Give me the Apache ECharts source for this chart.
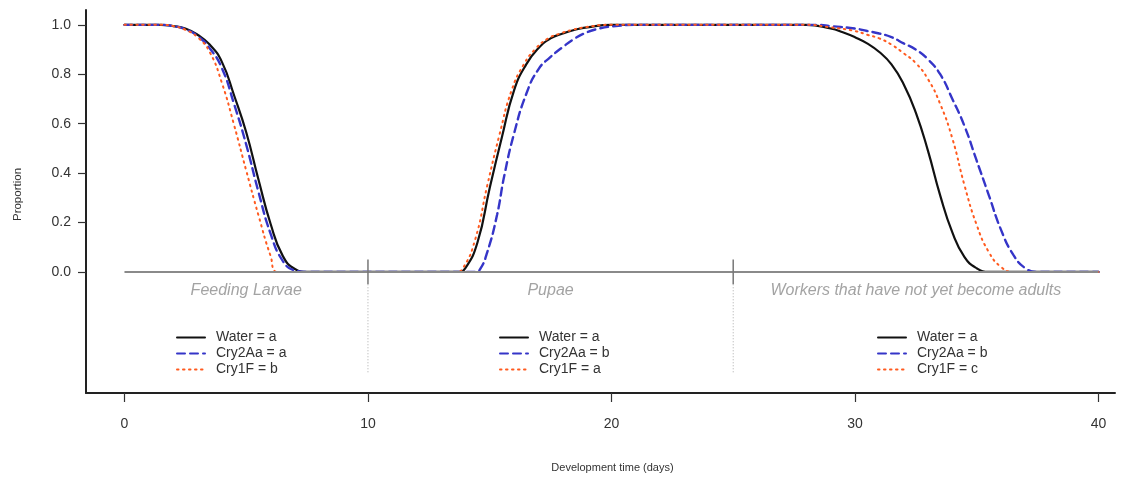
<!DOCTYPE html>
<html><head><meta charset="utf-8">
<script src="https://cdn.jsdelivr.net/npm/echarts@6.0.0/dist/echarts.min.js"></script>
<style>html,body{margin:0;padding:0;background:#fff}#c{width:1135px;height:479px}</style>
</head><body><div id="c"></div>
<script>
// ---- data ----
const seriesNames = ['Water', 'Cry2Aa', 'Cry1F'];
const water = [[0,1],[1.5,1],[2,0.995],[2.5,0.985],[3,0.96],[3.5,0.92],[4,0.85],[4.5,0.715],[5,0.565],[5.5,0.375],[6,0.195],[6.5,0.065],[7,0.012],[7.5,0],
  [13.7,0],[14,0.015],[14.5,0.12],[15,0.34],[15.5,0.545],[16,0.735],[16.5,0.84],[17,0.905],[17.5,0.945],[18,0.965],[18.5,0.98],[19,0.99],[20,1],
  [28,1],[29,0.985],[29.5,0.97],[30,0.95],[30.5,0.925],[31,0.89],[31.5,0.84],[32,0.76],[32.5,0.645],[33,0.49],[33.5,0.31],[34,0.16],[34.5,0.06],[35,0.015],[35.5,0],[40,0]];
const cry2Aa = [[0,1],[1.5,1],[2,0.995],[2.5,0.982],[3,0.955],[3.5,0.905],[4,0.825],[4.5,0.68],[5,0.515],[5.5,0.325],[6,0.155],[6.5,0.045],[7,0.006],[7.5,0],
  [14.4,0],[14.6,0.01],[14.9,0.08],[15.3,0.23],[15.6,0.39],[16,0.56],[16.5,0.72],[17,0.82],[17.5,0.87],[18,0.91],[18.5,0.945],[19,0.97],[19.5,0.985],[20,0.993],[21,1],
  [28.5,1],[29,0.995],[30,0.985],[30.5,0.975],[31,0.965],[31.5,0.95],[32,0.925],[32.5,0.9],[33,0.86],[33.5,0.8],[34,0.7],[34.5,0.59],[35,0.45],[35.5,0.31],[36,0.17],[36.5,0.07],[37,0.015],[37.5,0],[40,0]];
const cry1F = [[0,1],[1.5,1],[2,0.995],[2.5,0.98],[3,0.95],[3.5,0.89],[4,0.765],[4.5,0.595],[5,0.41],[5.5,0.23],[6,0.065],[6.3,0],
  [13.6,0],[13.9,0.015],[14.4,0.13],[14.9,0.35],[15.4,0.555],[15.9,0.735],[16.4,0.84],[16.9,0.905],[17.4,0.945],[17.9,0.965],[18.4,0.98],[18.9,0.99],[19.9,1],
  [28,1],[29,0.99],[30,0.975],[30.5,0.96],[31,0.945],[31.5,0.92],[32,0.885],[32.5,0.845],[33,0.78],[33.5,0.68],[34,0.54],[34.5,0.35],[35,0.19],[35.5,0.08],[36,0.02],[36.5,0],[40,0]];
const phaseBounds = [0, 10, 25, 40];
const phaseNames = ['Feeding Larvae', 'Pupae', 'Workers that have not yet become adults'];
const legendLetters = { Water: ['a','a','a'], Cry2Aa: ['a','b','b'], Cry1F: ['b','a','c'] };
const xTicks = [0, 10, 20, 30, 40];
const yTicks = [0, 0.2, 0.4, 0.6, 0.8, 1.0];

// ---- chart ----
const FONT = "'Liberation Sans', Arial, sans-serif";
const chart = echarts.init(document.getElementById('c'), null, { renderer: 'canvas' });

const curveStyles = {
  Water: { color: '#111111', width: 2.2, type: 'solid' },
  Cry2Aa: { color: '#3535c8', width: 2.4, type: [8, 5] },
  Cry1F: { color: '#ff5a1f', width: 2, type: [1.5, 4.5] }
};
const curveData = { Water: water, Cry2Aa: cry2Aa, Cry1F: cry1F };

const series = [];
seriesNames.forEach((n, i) => {
  series.push({
    name: n, type: 'line', data: curveData[n], symbol: 'none', showSymbol: false, smooth: 0.5,
    color: curveStyles[n].color,
    lineStyle: { color: curveStyles[n].color, width: curveStyles[n].width, type: curveStyles[n].type, cap: 'round' },
    z: 2 + i, silent: true
  });
});
// zero baseline across the data range
series.push({
  type: 'line', data: [[phaseBounds[0], 0], [phaseBounds[phaseBounds.length - 1], 0]], symbol: 'none',
  lineStyle: { color: '#8a8a8a', width: 2 }, z: 6, silent: true
});
// phase dividers
phaseBounds.slice(1, -1).forEach(b => {
  series.push({ type: 'line', data: [[b, 0.05], [b, -0.05]], symbol: 'none',
    lineStyle: { color: '#777', width: 1.5 }, z: 7, silent: true });
  series.push({ type: 'line', data: [[b, -0.05], [b, -0.41]], symbol: 'none',
    lineStyle: { color: '#aaa', width: 1, type: [1, 2] }, z: 7, silent: true });
});
// phase labels
series.push({
  type: 'scatter', symbolSize: 0, silent: true, z: 8,
  data: phaseNames.map((t, i) => ({ value: [(phaseBounds[i] + phaseBounds[i + 1]) / 2, -0.077], name: t })),
  label: { show: true, position: 'inside', formatter: p => p.name, color: '#8c8c8c', fontStyle: 'italic', fontSize: 16, fontFamily: FONT }
});

const legendLefts = [176, 499, 877];
const legends = legendLefts.map((l, k) => ({
  left: l, top: 330, orient: 'vertical', padding: 0, itemGap: 1, itemWidth: 28, itemHeight: 14,
  data: seriesNames, selectedMode: false,
  itemStyle: { opacity: 0, borderWidth: 0 },
  formatter: name => name + ' = ' + legendLetters[name][k],
  textStyle: { color: '#333', fontSize: 14, fontFamily: FONT, padding: [0, 0, 0, 6], lineHeight: 15 }
}));

chart.setOption({
  animation: false,
  backgroundColor: '#ffffff',
  textStyle: { fontFamily: FONT },
  grid: { left: 86, right: 20, top: 10, bottom: 86, containLabel: false },
  legend: legends,
  xAxis: {
    type: 'value', min: -1.58, max: 40.68,
    name: 'Development time (days)', nameLocation: 'middle', nameGap: 69,
    nameTextStyle: { color: '#333', fontSize: 11, fontFamily: FONT, padding: [0, 0, 0, 24] },
    axisLine: { show: true, onZero: false, lineStyle: { color: '#222', width: 2 } },
    axisTick: { show: true, length: 9, customValues: xTicks, lineStyle: { color: '#333', width: 1.2 } },
    axisLabel: { customValues: xTicks, margin: 24, color: '#333', fontSize: 14, fontFamily: FONT },
    splitLine: { show: false }
  },
  yAxis: {
    type: 'value', min: -0.49, max: 1.06,
    name: 'Proportion', nameLocation: 'middle', nameGap: 62, nameRotate: 90,
    nameTextStyle: { color: '#333', fontSize: 11.5, fontFamily: FONT, padding: [0, 0, 0, 14] },
    axisLine: { show: true, onZero: false, lineStyle: { color: '#222', width: 2 } },
    axisTick: { show: true, length: 8, customValues: yTicks, lineStyle: { color: '#333', width: 1.2 } },
    axisLabel: { customValues: yTicks, margin: 15, color: '#333', fontSize: 14, fontFamily: FONT, formatter: v => v.toFixed(1) },
    splitLine: { show: false }
  },
  series: series
});
</script>
</body></html>
